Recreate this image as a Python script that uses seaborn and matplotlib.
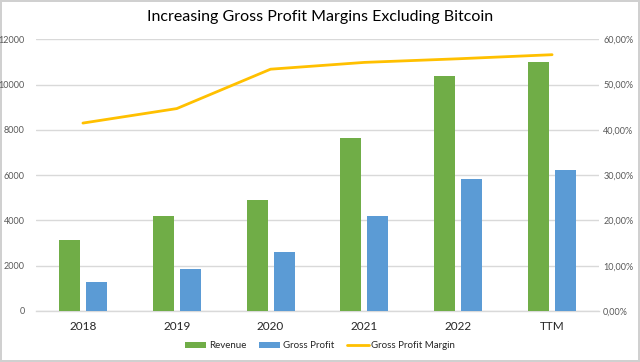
import numpy as np
import pandas as pd
import matplotlib
matplotlib.use("Agg")
import matplotlib.pyplot as plt
from matplotlib.ticker import FuncFormatter, MultipleLocator
from matplotlib.lines import Line2D
from matplotlib.patches import Patch
import seaborn as sns

categories = ["2018", "2019", "2020", "2021", "2022", "TTM"]
revenue = [3120, 4180, 4910, 7620, 10400, 10980]
gross_profit = [1280, 1850, 2615, 4180, 5810, 6220]
gross_margin = [0.415, 0.447, 0.534, 0.549, 0.557, 0.566]

series_names = ["Revenue", "Gross Profit", "Gross Profit Margin"]
colors = {"Revenue": "#70AD47", "Gross Profit": "#5B9BD5"}
line_color = "#FFC000"

df = pd.DataFrame({
    "Year": categories * 2,
    "Value": revenue + gross_profit,
    "Series": [series_names[0]] * len(categories) + [series_names[1]] * len(categories),
})

sns.set_theme(style="white")
plt.rcParams["font.family"] = ["Lato", "DejaVu Sans"]

fig = plt.figure(figsize=(6.4, 3.62), dpi=100, edgecolor="#d0d0d0", linewidth=1.5)
ax = fig.add_axes([36 / 640, 1 - 311 / 362, (599 - 36) / 640, (311 - 39.3) / 362])

sns.barplot(data=df, x="Year", y="Value", hue="Series", palette=colors,
            width=0.576, gap=0.22, ax=ax, legend=False, zorder=3,
            edgecolor="none", saturation=1)

ax.set_ylim(0, 12000)
ax.set_xlim(-0.5, len(categories) - 0.5)
ax.yaxis.set_major_locator(MultipleLocator(2000))
ax.grid(axis="y", color="#d9d9d9", linewidth=1, zorder=0)
ax.set_axisbelow(True)
for s in ["top", "left", "right"]:
    ax.spines[s].set_visible(False)
ax.spines["bottom"].set_color("#d9d9d9")
ax.spines["bottom"].set_linewidth(1)
ax.set_xlabel("")
ax.set_ylabel("")
ax.tick_params(axis="y", length=0, labelsize=6.5, labelcolor="#595959", pad=8)
ax.tick_params(axis="x", length=0, labelsize=8.5, labelcolor="#262626", pad=7)

ax2 = ax.twinx()
sns.lineplot(x=np.arange(len(categories)), y=gross_margin, ax=ax2,
             color=line_color, linewidth=2, zorder=4)
ax2.set_ylim(0, 0.6)
ax2.yaxis.set_major_locator(MultipleLocator(0.1))
ax2.yaxis.set_major_formatter(FuncFormatter(lambda v, p: f"{v*100:.2f}%".replace(".", ",")))
ax2.tick_params(axis="y", length=0, labelsize=6.5, labelcolor="#595959", pad=3)
for s in ["top", "left", "right", "bottom"]:
    ax2.spines[s].set_visible(False)
ax2.set_ylabel("")
ax2.grid(False)

fig.text(0.5, 1 - 17 / 362, "Increasing Gross Profit Margins Excluding Bitcoin",
         ha="center", va="center", fontsize=11.5, color="#000000")

handles = [Patch(facecolor=colors["Revenue"], edgecolor="none"),
           Patch(facecolor=colors["Gross Profit"], edgecolor="none"),
           Line2D([0], [0], color=line_color, linewidth=2)]
leg = fig.legend(handles, series_names, loc="center", bbox_to_anchor=(0.5, 1 - 346 / 362),
                 ncol=3, frameon=False, fontsize=7, handlelength=2.2, handleheight=0.6,
                 handletextpad=0.3, columnspacing=1.3)
for t in leg.get_texts():
    t.set_color("#262626")

fig.savefig("out.png", dpi=100, edgecolor=fig.get_edgecolor())
